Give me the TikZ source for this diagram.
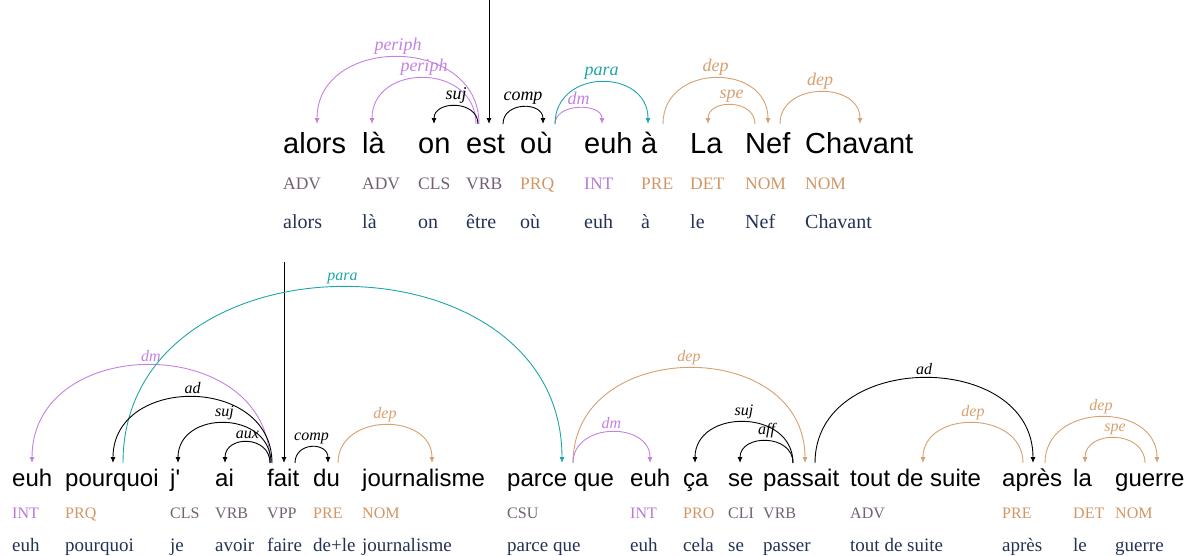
\documentclass[tikz,border=0pt]{standalone}
\usepackage{fontspec}
\setmainfont{Liberation Serif}
\newfontfamily\wordfont{Liberation Sans}
\usetikzlibrary{arrows.meta,calc}
\definecolor{posgray}{RGB}{115,95,115}
\definecolor{posorange}{RGB}{210,150,100}
\definecolor{pospurple}{RGB}{185,120,215}
\definecolor{lemmacol}{RGB}{35,50,85}
\definecolor{arcpurple}{RGB}{195,130,225}
\definecolor{arcteal}{RGB}{30,165,170}
\definecolor{arcorange}{RGB}{215,160,110}
\newcommand{\wsz}{29}\newcommand{\psz}{17.5}\newcommand{\lsz}{20}\newcommand{\lblsz}{18}
\newcommand{\yw}{153}\newcommand{\yp}{189}\newcommand{\yl}{228}\newcommand{\rise}{29}
\tikzset{word/.style={anchor=base west,inner sep=0pt,font=\wordfont\fontsize{\wsz}{\wsz}\selectfont},
postag/.style={anchor=base west,inner sep=0pt,font=\fontsize{\psz}{\psz}\selectfont},
lemma/.style={anchor=base west,inner sep=0pt,text=lemmacol,font=\fontsize{\lsz}{\lsz}\selectfont},
deprel/.style={line width=.9pt,-{Latex[length=6pt,width=5pt]}},
lbl/.style={anchor=south,inner sep=2.5pt,font=\itshape\fontsize{\lblsz}{\lblsz}\selectfont},
ADV/.style={text=posgray},CLS/.style={text=posgray},VRB/.style={text=posgray},VPP/.style={text=posgray},
CSU/.style={text=posgray},CLI/.style={text=posgray},PRQ/.style={text=posorange},PRE/.style={text=posorange},
DET/.style={text=posorange},NOM/.style={text=posorange},PRO/.style={text=posorange},INT/.style={text=pospurple}}
\newcommand{\tok}[5]{\node[word](#1) at (#2,-\yw){#3};\node[postag,#4](#1-p) at (#2,-\yp){#4};\node[lemma](#1-l) at (#2,-\yl){#5};}
\newcommand{\deparc}[7]{\draw[deprel,#1]([xshift=#3,yshift=\rise]#2.base west) .. controls +(0,{1.333*#6}) and +(0,{1.333*#6}) .. ([xshift=#5,yshift=\rise]#4.base west) node[lbl,pos=.5]{#7};}

\begin{document}
\begin{tikzpicture}[x=1pt,y=1pt]
\useasboundingbox (0,0) rectangle (1195,-555);
\tok{alors}{283}{alors}{ADV}{alors}\tok{laA}{362}{là}{ADV}{là}\tok{on}{418}{on}{CLS}{on}
\tok{est}{466}{est}{VRB}{être}\tok{ou}{520}{où}{PRQ}{où}\tok{euhA}{584}{euh}{INT}{euh}
\tok{aA}{641}{à}{PRE}{à}\tok{LaB}{690}{La}{DET}{le}\tok{Nef}{745}{Nef}{NOM}{Nef}\tok{Chavant}{805}{Chavant}{NOM}{Chavant}
\path ([xshift=23,yshift=\rise]est.base west) coordinate (estin);\coordinate (rootA) at (estin |- 0,0);
\draw[deprel](rootA)--(estin);
\deparc{arcpurple}{est}{13}{alors}{34}{67}{periph}
\deparc{arcpurple}{est}{10}{laA}{10}{46}{periph}
\deparc{black}{est}{12}{on}{16}{18}{suj}
\deparc{black}{est}{37}{ou}{23}{17}{comp}
\deparc{arcpurple}{ou}{35}{euhA}{18}{16}{dm}
\deparc{arcteal}{ou}{35}{aA}{7}{42}{para}
\deparc{arcorange}{aA}{22}{Nef}{23}{46}{dep}
\deparc{arcorange}{Nef}{10}{LaB}{18}{19}{spe}
\deparc{arcorange}{Nef}{35}{Chavant}{55}{32}{dep}
\renewcommand{\wsz}{24}\renewcommand{\psz}{16}\renewcommand{\lsz}{19}\renewcommand{\lblsz}{16}
\renewcommand{\yw}{486}\renewcommand{\yp}{518}\renewcommand{\yl}{551}\renewcommand{\rise}{23}
\tok{euhB}{12}{euh}{INT}{euh}\tok{pourquoi}{65}{pourquoi}{PRQ}{pourquoi}\tok{je}{170}{j'}{CLS}{je}
\tok{ai}{215}{ai}{VRB}{avoir}\tok{fait}{267}{fait}{VPP}{faire}\tok{du}{313}{du}{PRE}{de+le}
\tok{journalisme}{362}{journalisme}{NOM}{journalisme}\tok{parceque}{507}{parce que}{CSU}{parce que}
\tok{euhC}{630}{euh}{INT}{euh}\tok{ca}{683}{ça}{PRO}{cela}\tok{se}{728}{se}{CLI}{se}\tok{passait}{763}{passait}{VRB}{passer}
\tok{toutdesuite}{850}{tout de suite}{ADV}{tout de suite}\tok{apres}{1002}{après}{PRE}{après}
\tok{la}{1073}{la}{DET}{le}\tok{guerre}{1115}{guerre}{NOM}{guerre}
\path ([xshift=17,yshift=\rise]fait.base west) coordinate (faitin);\coordinate (rootB) at (faitin |- 0,-262);
\draw[deprel](rootB)--(faitin);
\deparc{arcpurple}{fait}{3}{euhB}{20}{98}{dm}
\deparc{arcteal}{pourquoi}{58}{parceque}{55}{176}{para}
\deparc{black}{fait}{5}{pourquoi}{48}{66}{ad}
\deparc{black}{fait}{4}{je}{8}{40}{suj}
\deparc{black}{fait}{3}{ai}{10}{21}{aux}
\deparc{black}{fait}{28}{du}{15}{16}{comp}
\deparc{arcorange}{du}{25}{journalisme}{70}{38}{dep}
\deparc{arcorange}{parceque}{66}{passait}{42}{95}{dep}
\deparc{arcpurple}{parceque}{66}{euhC}{20}{31}{dm}
\deparc{black}{passait}{30}{ca}{12}{41}{suj}
\deparc{black}{passait}{30}{se}{12}{22}{aff}
\deparc{black}{passait}{52}{apres}{31}{85}{ad}
\deparc{arcorange}{apres}{21}{toutdesuite}{73}{40}{dep}
\deparc{arcorange}{apres}{43}{guerre}{42}{46}{dep}
\deparc{arcorange}{guerre}{30}{la}{12}{25}{spe}
\end{tikzpicture}
\end{document}
